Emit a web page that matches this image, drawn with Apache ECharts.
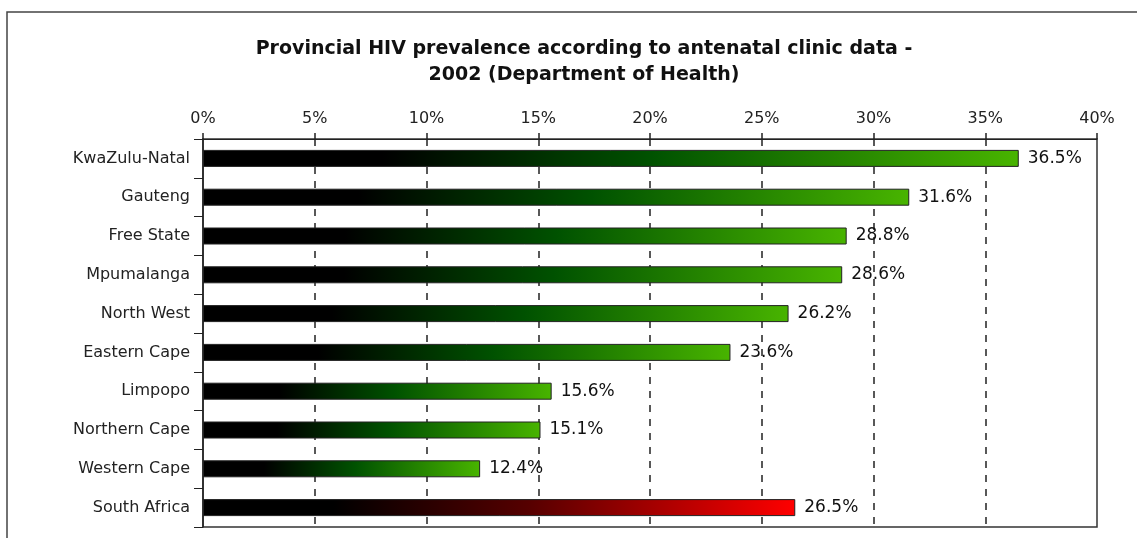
<!DOCTYPE html>
<html>
<head>
<meta charset="utf-8">
<title>Provincial HIV prevalence</title>
<script src="https://cdn.jsdelivr.net/npm/echarts@6/dist/echarts.min.js"></script>
<style>
  html, body { margin: 0; padding: 0; background: #fff; }
  #chart { width: 1137px; height: 538px; }
</style>
</head>
<body>
<div id="chart"></div>
<script>
// data
var provinces = ["KwaZulu-Natal", "Gauteng", "Free State", "Mpumalanga", "North West",
  "Eastern Cape", "Limpopo", "Northern Cape", "Western Cape", "South Africa"];
var prevalence = [36.5, 31.6, 28.8, 28.6, 26.2, 23.6, 15.6, 15.1, 12.4, 26.5];
var titleLines = ["Provincial HIV prevalence according to antenatal clinic data -",
  "2002 (Department of Health)"];

var font = "DejaVu Sans";

// bars fade from black into green (national figure into red)
function barColor(params) {
  var last = params.dataIndex === provinces.length - 1;
  var stops = last
    ? [{ offset: 0, color: "#000000" }, { offset: 0.22, color: "#000000" },
       { offset: 0.55, color: "#560000" }, { offset: 1, color: "#ff0000" }]
    : [{ offset: 0, color: "#000000" }, { offset: 0.22, color: "#000000" },
       { offset: 0.55, color: "#005200" }, { offset: 1, color: "#48b400" }];
  return new echarts.graphic.LinearGradient(0, 0, 1, 0, stops);
}

var myChart = echarts.init(document.getElementById("chart"));

var option = {
  animation: false,
  title: {
    text: titleLines.join("\n"),
    left: 579,
    top: 31,
    textAlign: "center",
    textStyle: {
      fontFamily: font,
      fontWeight: "bold",
      fontSize: 19,
      lineHeight: 26,
      color: "#111"
    }
  },
  graphic: [
    {
      type: "rect",
      shape: { x: 7, y: 12, width: 1200, height: 600 },
      style: { fill: "none", stroke: "#444", lineWidth: 1.5 },
      silent: true
    }
  ],
  grid: {
    left: 203,
    right: 40,
    top: 139,
    bottom: 11,
    show: true,
    borderColor: "#333",
    borderWidth: 1.5
  },
  xAxis: {
    type: "value",
    position: "top",
    min: 0,
    max: 40,
    interval: 5,
    axisLine: { show: true, lineStyle: { color: "#222" } },
    axisTick: { show: true, length: 6, lineStyle: { color: "#222", width: 1.5 } },
    axisLabel: {
      formatter: "{value}%",
      fontFamily: font,
      fontSize: 16,
      color: "#222",
      margin: 12
    },
    splitLine: {
      show: true,
      showMinLine: false,
      showMaxLine: false,
      lineStyle: { color: "#222", type: [7, 7], width: 1.5 }
    }
  },
  yAxis: {
    type: "category",
    inverse: true,
    data: provinces,
    axisLine: { show: true, lineStyle: { color: "#222", width: 1.5 } },
    axisTick: { show: true, length: 9, lineStyle: { color: "#222" } },
    axisLabel: {
      fontFamily: font,
      fontSize: 16,
      color: "#222",
      margin: 13
    }
  },
  series: [
    {
      type: "bar",
      data: prevalence,
      barWidth: 17,
      itemStyle: {
        color: barColor,
        borderColor: "#222",
        borderWidth: 1
      },
      label: {
        show: true,
        position: "right",
        distance: 9,
        formatter: "{c}%",
        fontFamily: font,
        fontSize: 17,
        color: "#111"
      }
    }
  ]
};

myChart.setOption(option);

window.addEventListener("resize", function() {
  myChart.resize();
});
</script>
</body>
</html>
